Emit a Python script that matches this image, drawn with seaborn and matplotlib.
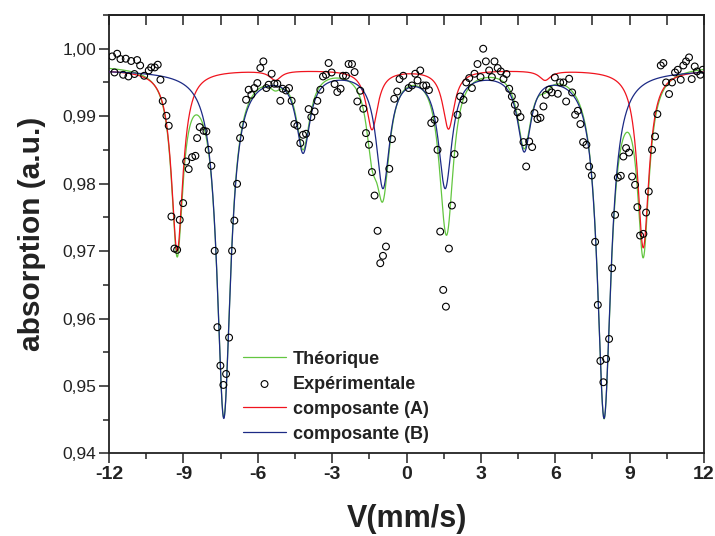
import numpy as np
import pandas as pd
import matplotlib
matplotlib.use("Agg")
import matplotlib.pyplot as plt
import seaborn as sns
from matplotlib.ticker import MultipleLocator, FuncFormatter, FixedLocator, NullLocator

# ---------------- data ----------------
velocity_exp = [
    -11.872, -11.779, -11.671, -11.538, -11.429, -11.324, -11.215, -11.106, -10.973, -10.865,
    -10.744, -10.582, -10.397, -10.300, -10.155, -10.034, -9.925, -9.833, -9.684, -9.591,
    -9.482, -9.361, -9.252, -9.147, -9.010, -8.889, -8.785, -8.648, -8.515, -8.446,
    -8.341, -8.180, -8.071, -7.979, -7.870, -7.737, -7.628, -7.507, -7.386, -7.277,
    -7.156, -7.035, -6.943, -6.834, -6.713, -6.592, -6.471, -6.366, -6.257, -6.137,
    -6.016, -5.895, -5.774, -5.653, -5.560, -5.439, -5.330, -5.210, -5.089, -4.996,
    -4.859, -4.738, -4.633, -4.524, -4.403, -4.283, -4.174, -4.053, -3.948, -3.839,
    -3.706, -3.597, -3.476, -3.368, -3.247, -3.142, -3.021, -2.900, -2.791, -2.658,
    -2.561, -2.441, -2.336, -2.199, -2.094, -1.985, -1.864, -1.743, -1.634, -1.513,
    -1.393, -1.288, -1.167, -1.058, -0.949, -0.828, -0.695, -0.586, -0.494, -0.373,
    -0.280, -0.131, 0.083, 0.220, 0.353, 0.445, 0.554, 0.675, 0.796, 0.905,
    0.998, 1.131, 1.251, 1.360, 1.481, 1.590, 1.711, 1.832, 1.937, 2.058,
    2.166, 2.299, 2.408, 2.529, 2.638, 2.743, 2.864, 2.985, 3.093, 3.202,
    3.335, 3.444, 3.549, 3.678, 3.807, 3.912, 4.033, 4.141, 4.250, 4.371,
    4.476, 4.597, 4.718, 4.827, 4.948, 5.068, 5.161, 5.282, 5.403, 5.524,
    5.621, 5.754, 5.862, 5.983, 6.104, 6.197, 6.330, 6.439, 6.560, 6.681,
    6.802, 6.911, 7.015, 7.124, 7.257, 7.366, 7.475, 7.608, 7.717, 7.821,
    7.942, 8.051, 8.172, 8.293, 8.414, 8.523, 8.644, 8.748, 8.857, 8.978,
    9.099, 9.220, 9.313, 9.422, 9.555, 9.663, 9.772, 9.905, 10.026, 10.119,
    10.256, 10.361, 10.470, 10.591, 10.711, 10.832, 10.941, 11.062, 11.167, 11.276,
    11.396, 11.505, 11.626, 11.719, 11.852, 11.949,
]
absorption_exp = [
    0.99886, 0.99648, 0.99926, 0.99847, 0.99614, 0.99852, 0.99589, 0.99818, 0.99625, 0.99832,
    0.99752, 0.99599, 0.99678, 0.99723, 0.99723, 0.99763, 0.99540, 0.99224, 0.99006, 0.98858,
    0.97512, 0.97037, 0.97018, 0.97463, 0.97711, 0.98328, 0.98215, 0.98393, 0.98412, 0.98675,
    0.98838, 0.98783, 0.98773, 0.98501, 0.98264, 0.97003, 0.95871, 0.95301, 0.95015, 0.95178,
    0.95717, 0.97003, 0.97452, 0.97997, 0.98675, 0.98872, 0.99243, 0.99392, 0.99317, 0.99417,
    0.99491, 0.99714, 0.99812, 0.99417, 0.99466, 0.99629, 0.99481, 0.99481, 0.99228, 0.99407,
    0.99381, 0.99417, 0.99228, 0.98883, 0.98858, 0.98601, 0.98724, 0.98739, 0.99105, 0.98987,
    0.99070, 0.99228, 0.99392, 0.99589, 0.99614, 0.99788, 0.99648, 0.99476, 0.99358, 0.99407,
    0.99599, 0.99599, 0.99773, 0.99773, 0.99654, 0.99218, 0.99377, 0.99110, 0.98749, 0.98576,
    0.98171, 0.97823, 0.97300, 0.96820, 0.96929, 0.97067, 0.98220, 0.98660, 0.99258, 0.99366,
    0.99550, 0.99599, 0.99417, 0.99455, 0.99629, 0.99530, 0.99678, 0.99455, 0.99455, 0.99387,
    0.98898, 0.98947, 0.98501, 0.97289, 0.96424, 0.96176, 0.97037, 0.97675, 0.98438, 0.99021,
    0.99292, 0.99243, 0.99500, 0.99565, 0.99417, 0.99629, 0.99773, 0.99580, 1.00000, 0.99812,
    0.99678, 0.99580, 0.99812, 0.99714, 0.99663, 0.99550, 0.99625, 0.99407, 0.99292, 0.99169,
    0.99055, 0.98987, 0.98616, 0.98254, 0.98625, 0.98542, 0.99046, 0.98957, 0.98976, 0.99144,
    0.99317, 0.99392, 0.99352, 0.99574, 0.99332, 0.99500, 0.99500, 0.99218, 0.99555, 0.99352,
    0.99021, 0.99080, 0.98883, 0.98616, 0.98576, 0.98254, 0.98120, 0.97136, 0.96202, 0.95371,
    0.95055, 0.95401, 0.95697, 0.96746, 0.97537, 0.98090, 0.98116, 0.98402, 0.98527, 0.98461,
    0.98105, 0.97982, 0.97651, 0.97230, 0.97255, 0.97571, 0.97883, 0.98501, 0.98699, 0.99031,
    0.99752, 0.99788, 0.99500, 0.99328, 0.99500, 0.99648, 0.99688, 0.99540, 0.99752, 0.99812,
    0.99871, 0.99550, 0.99737, 0.99663, 0.99614, 0.99688,
]

# sextet parameters (line positions, depths, half widths)
pos_A = [-9.25, -5.29, -1.39, 1.695, 5.59, 9.55]
depth_A = [0.0269, 0.0014, 0.0088, 0.0087, 0.0014, 0.0264]
hwhm_A = 0.28
base_A = 0.9969

pos_B = [-7.37, -4.17, -0.95, 1.56, 4.75, 7.97]
depth_B = [0.0515, 0.0116, 0.0170, 0.0170, 0.0114, 0.0515]
hwhm_B = 0.33
base_B = 0.9969

base_total = 0.9977

labels = ["Théorique", "Expérimentale", "composante (A)", "composante (B)"]
x_ticks = [-12, -9, -6, -3, 0, 3, 6, 9, 12]
y_ticks = [0.94, 0.95, 0.96, 0.97, 0.98, 0.99, 1.00]

# ---------------- model curves ----------------
v = np.linspace(-12, 12, 4801)


def sextet_loss(pos, depth, g):
    out = np.zeros_like(v)
    for p, d in zip(pos, depth):
        out += d * g ** 2 / (g ** 2 + (v - p) ** 2)
    return out


loss_A = sextet_loss(pos_A, depth_A, hwhm_A)
loss_B = sextet_loss(pos_B, depth_B, hwhm_B)
curve_A = base_A - loss_A
curve_B = base_B - loss_B
curve_T = base_total - loss_A - loss_B

# ---------------- plot ----------------
sns.set_style("ticks")
plt.rcParams["font.family"] = ["Liberation Sans", "DejaVu Sans"]

fig = plt.figure(figsize=(7.15, 5.36), dpi=100)
ax = fig.add_axes([109 / 715, 1 - 453.4 / 536, 595 / 715, 438.4 / 536])

green = "#63c640"
red = "#f0141e"
blue = "#1c2a85"
ink = "#222222"

sns.lineplot(x=v, y=curve_T, ax=ax, color=green, lw=0.9, label=labels[0], zorder=2)
sns.lineplot(x=v, y=curve_A, ax=ax, color=red, lw=0.9, label=labels[2], zorder=3)
sns.lineplot(x=v, y=curve_B, ax=ax, color=blue, lw=0.9, label=labels[3], zorder=4)
sns.scatterplot(x=velocity_exp, y=absorption_exp, ax=ax, marker="o", s=24,
                facecolors="none", edgecolor="black", linewidth=0.8,
                label=labels[1], zorder=5)

ax.set_xlim(-12, 12)
ax.set_ylim(0.94, 1.005)

ax.xaxis.set_major_locator(FixedLocator(x_ticks))
ax.xaxis.set_minor_locator(MultipleLocator(1.5))
ax.yaxis.set_major_locator(FixedLocator(y_ticks))
ax.yaxis.set_minor_locator(MultipleLocator(0.005))
ax.xaxis.set_major_formatter(FuncFormatter(lambda val, _: f"{int(round(val))}"))
ax.yaxis.set_major_formatter(FuncFormatter(lambda val, _: f"{val:.2f}".replace(".", ",")))

ax.tick_params(axis="both", which="major", direction="out", length=7, width=1.1, color=ink)
ax.tick_params(axis="both", which="minor", direction="out", length=4, width=1.1, color=ink)
ax.tick_params(axis="x", labelsize=14, pad=2, labelcolor=ink)
ax.tick_params(axis="y", labelsize=12.5, pad=2, labelcolor=ink)
for lab in ax.get_xticklabels():
    lab.set_fontweight("bold")

sec = ax.secondary_xaxis("top")
sec.xaxis.set_major_locator(MultipleLocator(1.5))
sec.xaxis.set_minor_locator(NullLocator())
sec.tick_params(which="both", direction="in", length=7, width=1.1, labeltop=False, color=ink)
sec.spines["top"].set_linewidth(1.3)

for s in ax.spines.values():
    s.set_linewidth(1.3)
    s.set_color(ink)
    s.set_visible(True)

ax.set_xlabel("V(mm/s)", fontsize=22, fontweight="bold", labelpad=15, color=ink)
ax.set_ylabel("absorption (a.u.)", fontsize=21.5, fontweight="bold", labelpad=12, color=ink)

handles, labs = ax.get_legend_handles_labels()
order = [labs.index(l) for l in labels]
leg = ax.legend([handles[i] for i in order], [labs[i] for i in order],
                loc="upper left", bbox_to_anchor=(0.225, 0.234), frameon=False,
                handlelength=2.4, handletextpad=0.35, labelspacing=0.44,
                borderpad=0.0, borderaxespad=0.0,
                prop={"weight": "bold", "size": 13})
for t in leg.get_texts():
    t.set_color(ink)

fig.savefig("out.png", dpi=100)
